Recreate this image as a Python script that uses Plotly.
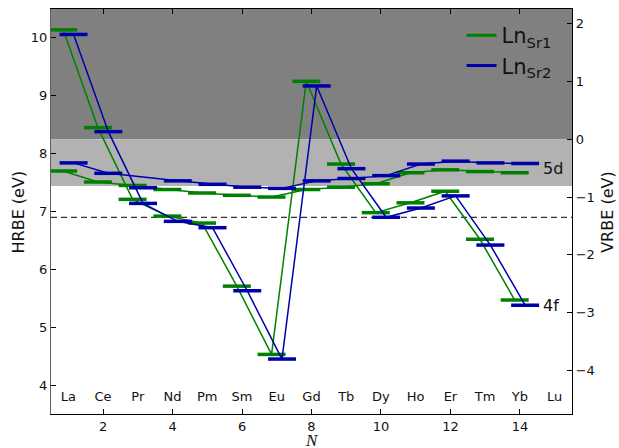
import plotly.graph_objects as go

# Lanthanide series (N = number of electrons in 4f shell of Ln3+ counterpart)
elements = ["La", "Ce", "Pr", "Nd", "Pm", "Sm", "Eu", "Gd", "Tb", "Dy", "Ho", "Er", "Tm", "Yb", "Lu"]
n_values = list(range(1, 16))

# Ground-state 4f levels, host-referred binding energy (eV), La..Yb
f4_sr1 = [10.14, 8.45, 7.21, 6.92, 6.80, 5.71, 4.53, 9.25, 7.82, 6.98, 7.15, 7.35, 6.52, 5.47]
f4_sr2 = [10.06, 8.38, 7.14, 6.83, 6.72, 5.63, 4.45, 9.17, 7.74, 6.90, 7.06, 7.27, 6.42, 5.38]

# Lowest 5d levels, HRBE (eV), La..Yb
d5_sr1 = [7.70, 7.51, 7.45, 7.38, 7.32, 7.28, 7.25, 7.38, 7.42, 7.48, 7.67, 7.72, 7.69, 7.67]
d5_sr2 = [7.84, 7.66, 7.41, 7.53, 7.47, 7.42, 7.40, 7.53, 7.57, 7.62, 7.82, 7.87, 7.84, 7.83]

# Points left out of the connecting line of a series (by element)
d5_sr2_line_skip = ["Pr"]

# Band edges of the host (HRBE, eV) and VRBE zero point
cb_bottom = 8.25       # conduction band bottom, VRBE = 0
exciton_level = 7.44   # top of the exciton band
vb_top_ref = 6.90      # dashed reference level
vrbe_offset = 8.25     # VRBE = HRBE - vrbe_offset

hrbe_range = [3.5, 10.5]
n_range = [0.5, 15.5]
site_shift = 0.15

GREEN = "#008000"
BLUE = "#0000aa"
FONT = "DejaVu Sans"

fig = go.Figure()


def add_levels(values, shift, color, skip=()):
    xs = [n_values[i] + shift for i in range(len(values))]
    keep = [i for i in range(len(values)) if elements[i] not in skip]
    # connecting line
    fig.add_trace(go.Scatter(
        x=[xs[i] for i in keep], y=[values[i] for i in keep], mode="lines",
        line=dict(color=color, width=1.5),
        showlegend=False, hoverinfo="skip",
    ))
    # level bars
    fig.add_trace(go.Scatter(
        x=xs, y=values, mode="markers",
        marker=dict(symbol="line-ew", size=20, color=color,
                    line=dict(color=color, width=3.5)),
        showlegend=False, hoverinfo="skip",
    ))


add_levels(d5_sr1, -site_shift, GREEN)
add_levels(f4_sr1, -site_shift, GREEN)
add_levels(d5_sr2, site_shift, BLUE, skip=d5_sr2_line_skip)
add_levels(f4_sr2, site_shift, BLUE)

# Legend entries
fig.add_trace(go.Scatter(x=[None], y=[None], mode="lines", name="Ln<sub>Sr1</sub>",
                         line=dict(color=GREEN, width=3)))
fig.add_trace(go.Scatter(x=[None], y=[None], mode="lines", name="Ln<sub>Sr2</sub>",
                         line=dict(color=BLUE, width=3)))

# Element names along the bottom of the plot
fig.add_trace(go.Scatter(
    x=n_values, y=[3.78] * len(n_values), mode="text", text=elements,
    textfont=dict(family=FONT, size=13, color="#111"),
    showlegend=False, hoverinfo="skip",
))

# Host bands
fig.add_shape(type="rect", xref="paper", yref="y", x0=0, x1=1,
              y0=cb_bottom, y1=hrbe_range[1], fillcolor="#808080",
              line=dict(width=0), layer="below")
fig.add_shape(type="rect", xref="paper", yref="y", x0=0, x1=1,
              y0=exciton_level, y1=cb_bottom, fillcolor="#b2b2b2",
              line=dict(width=0), layer="below")
fig.add_shape(type="line", xref="paper", yref="y", x0=0, x1=1,
              y0=vb_top_ref, y1=vb_top_ref,
              line=dict(color="black", width=1, dash="6px,4px"), layer="below")

# Level labels
fig.add_annotation(x=14.62, y=7.75, text="5d", showarrow=False, xanchor="left",
                   font=dict(family=FONT, size=16, color="#111"))
fig.add_annotation(x=14.62, y=5.38, text="4f", showarrow=False, xanchor="left",
                   font=dict(family=FONT, size=16, color="#111"))

# Axis titles
fig.add_annotation(x=0.5, xref="paper", y=-0.066, yref="paper", text="<i>N</i>",
                   showarrow=False, yanchor="middle", borderpad=0,
                   font=dict(family="Liberation Serif", size=17, color="#111"))
fig.add_annotation(x=-0.0615, xref="paper", y=0.5, yref="paper", text="HRBE (eV)",
                   showarrow=False, textangle=-90, xanchor="center",
                   font=dict(family=FONT, size=16, color="#111"))
fig.add_annotation(x=1.0678, xref="paper", y=0.5, yref="paper", text="VRBE (eV)",
                   showarrow=False, textangle=-90, xanchor="center",
                   font=dict(family=FONT, size=16, color="#111"))

fig.update_layout(
    width=619, height=448,
    margin=dict(l=51, r=47, t=9, b=34),
    plot_bgcolor="white", paper_bgcolor="white",
    font=dict(family=FONT, size=13, color="#111"),
    legend=dict(x=0.788, y=0.985, xanchor="left", yanchor="top",
                bgcolor="rgba(0,0,0,0)", font=dict(size=21, family=FONT),
                itemwidth=30, tracegroupgap=0),
    xaxis=dict(range=n_range, tickvals=[2, 4, 6, 8, 10, 12, 14],
               ticks="inside", ticklen=5, tickcolor="black",
               showline=True, linecolor="black", linewidth=1.2, mirror="ticks",
               showgrid=False, zeroline=False, automargin=False),
    yaxis=dict(range=hrbe_range, dtick=1, ticks="inside", ticklen=5, tickcolor="black",
               showline=True, linecolor="#606060", linewidth=1.2,
               showgrid=False, zeroline=False, automargin=False),
    yaxis2=dict(range=[hrbe_range[0] - vrbe_offset, hrbe_range[1] - vrbe_offset],
                dtick=1, overlaying="y", side="right",
                ticks="inside", ticklen=5, tickcolor="black",
                showline=True, linecolor="black", linewidth=1.2,
                showgrid=False, zeroline=False, automargin=False),
)

# Invisible trace that activates the VRBE axis
fig.add_trace(go.Scatter(x=[None], y=[None], yaxis="y2", showlegend=False, hoverinfo="skip"))

fig.write_html("out.html")
